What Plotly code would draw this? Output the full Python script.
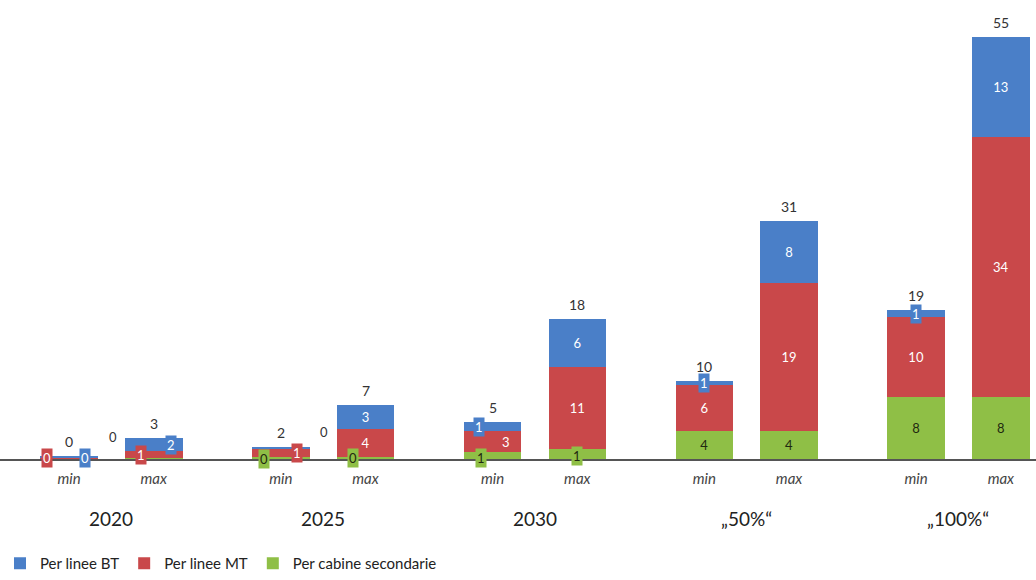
import plotly.graph_objects as go

groups = ["2020", "2025", "2030", "„50%“", "„100%“"]
levels = ["min", "max"]

# values per bar: order 2020 min, 2020 max, 2025 min, 2025 max, ...
cabine = [0.05, 0.1, 0.3, 0.3, 0.9, 1.3, 3.6, 3.6, 8.1, 8.1]
linee_mt = [0.2, 0.9, 1.0, 3.6, 2.7, 10.7, 6.0, 19.4, 10.4, 33.9]
linee_bt = [0.15, 1.7, 0.3, 3.1, 1.2, 6.3, 0.6, 8.0, 0.9, 13.0]

series = [
    ("Per cabine secondarie", cabine, "#8fbf46", "#1f2a10"),
    ("Per linee MT", linee_mt, "#c9484a", "white"),
    ("Per linee BT", linee_bt, "#4a7fc8", "white"),
]

# layout helpers: position of each bar (min/max closer together within a group)
GROUP_STEP = 2.5
xpos = []
xticktext = []
for gi, g in enumerate(groups):
    for li, lv in enumerate(levels):
        xpos.append(gi * GROUP_STEP + li)
        xticktext.append(f"<i>{lv}</i>")

SMALL = 1.5
# label placement tweaks for small segments: (series, bar index) -> (xshift, yshift, boxed)
label_tweaks = {
    ("Per cabine secondarie", 0): (44, 22, False),
    ("Per linee MT", 0): (-22, 0, True),
    ("Per linee BT", 0): (16, -1, True),
    ("Per cabine secondarie", 1): None,
    ("Per linee MT", 1): (-13, 0, True),
    ("Per linee BT", 1): (17, 0, True),
    ("Per cabine secondarie", 2): (-17, -1, True),
    ("Per linee MT", 2): (16, 0, True),
    ("Per linee BT", 2): (43, 16, False),
    ("Per cabine secondarie", 3): (-13, 0, True),
    ("Per cabine secondarie", 4): (-12, -2, True),
    ("Per linee BT", 4): (-14, 0, True),
    ("Per linee MT", 4): (13, 0, True),
    ("Per cabine secondarie", 5): (0, -2, True),
}

FONT = "Lato, 'Open Sans', sans-serif"

fig = go.Figure()
annotations = []
base = [0.0] * len(xpos)
for name, vals, color, tcolor in series:
    texts = []
    for i, v in enumerate(vals):
        small = v < SMALL or (name, i) in label_tweaks
        texts.append("" if small else f"{v:.0f}")
        if small:
            tw = label_tweaks.get((name, i), (0, 0, True))
            if tw is not None:
                xs, ys, boxed = tw
                annotations.append(dict(
                    x=xpos[i], y=base[i] + v / 2, xref="x", yref="y",
                    text=f"{v:.0f}", showarrow=False, xshift=xs, yshift=ys,
                    font=dict(family=FONT, size=13,
                              color=(tcolor if boxed else "#333")),
                    bgcolor=(color if boxed else "rgba(0,0,0,0)"),
                    borderpad=1,
                ))
        base[i] += v
    fig.add_trace(go.Bar(
        x=xpos, y=vals, name=name, marker=dict(color=color, line=dict(width=0)),
        width=0.68, text=texts, textposition="inside", insidetextanchor="middle",
        textfont=dict(family=FONT, size=13, color=tcolor), constraintext="none",
        hoverinfo="skip",
    ))

# totals above the bars
for i, tot in enumerate(base):
    annotations.append(dict(
        x=xpos[i], y=tot, xref="x", yref="y", text=f"{tot:.0f}",
        showarrow=False, yanchor="bottom", yshift=4,
        font=dict(family=FONT, size=14, color="#333"),
    ))

# group labels
for gi, g in enumerate(groups):
    annotations.append(dict(
        x=gi * GROUP_STEP + 0.5, y=-0.137, xref="x", yref="paper", text=g,
        showarrow=False, yanchor="middle",
        font=dict(family=FONT, size=19, color="#222"),
    ))

fig.update_layout(
    width=1036, height=580,
    margin=dict(l=0, r=0, t=22, b=120),
    barmode="stack",
    plot_bgcolor="white", paper_bgcolor="white",
    showlegend=True,
    legend=dict(orientation="h", x=0, xanchor="left", y=-0.24, yanchor="middle",
                traceorder="reversed", font=dict(family=FONT, size=15, color="#222"),
                itemwidth=30),
    xaxis=dict(range=[-0.815, 11.415], tickmode="array", tickvals=xpos,
               ticktext=xticktext, showgrid=False, zeroline=False,
               showline=True, linecolor="#555", linewidth=2, ticks="",
               tickfont=dict(family=FONT, size=15, color="#444"), ticklabelstandoff=5),
    yaxis=dict(range=[0, 57], visible=False, showgrid=False, zeroline=False),
    annotations=annotations,
)

fig.write_html("out.html")
